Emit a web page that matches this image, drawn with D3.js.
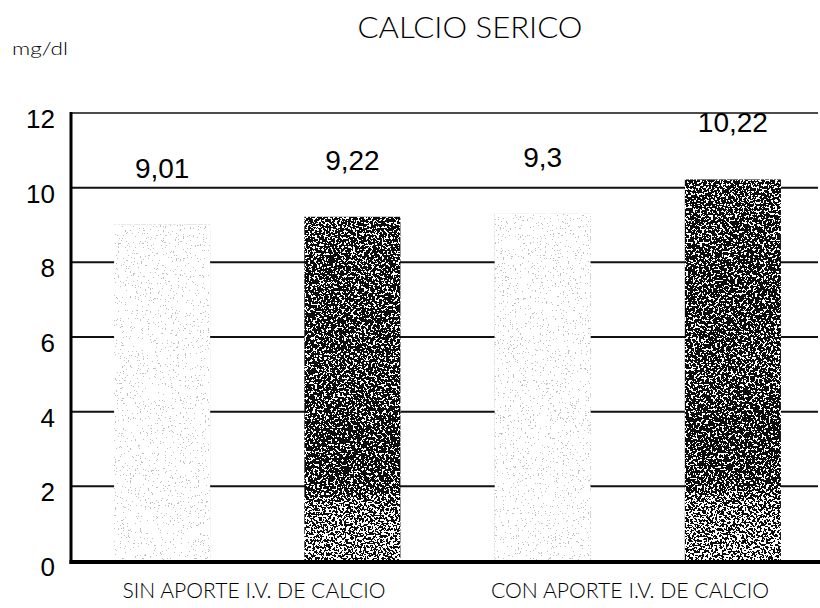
<!DOCTYPE html>
<html>
<head>
<meta charset="utf-8">
<script src="https://cdn.jsdelivr.net/npm/d3@7/dist/d3.min.js"></script>
<style>
  html, body { margin: 0; padding: 0; background: #fff; }
  svg { display: block; }
</style>
</head>
<body>
<svg id="chart" width="820" height="608"></svg>
<script>
// Serum calcium (mg/dl), with and without I.V. calcium supply
const title = "CALCIO SERICO";
const unitLabel = "mg/dl";
const groups = ["SIN APORTE I.V. DE CALCIO", "CON APORTE I.V. DE CALCIO"];
const seriesKeys = ["claro", "oscuro"];
const valuesClaro = [9.01, 9.3];
const valuesOscuro = [9.22, 10.22];
const yTicks = [0, 2, 4, 6, 8, 10, 12];

const bars = [];
groups.forEach((g, i) => {
  bars.push({ group: g, key: seriesKeys[0], value: valuesClaro[i] });
  bars.push({ group: g, key: seriesKeys[1], value: valuesOscuro[i] });
});
bars.forEach((d, i) => d.id = "b" + i);

const svg = d3.select("#chart");
const width = 820;

const y = d3.scaleLinear().domain([0, 12]).range([561, 113]);
const xBar = d3.scaleBand().domain(bars.map(d => d.id))
  .range([67, 828]).paddingInner(0.495).paddingOuter(0.2475);
const xGroup = d3.scaleBand().domain(groups).range([66, 818]);

const plotLeft = 71, plotRight = 818;

// ---- stipple textures (dithered grey) ----
const defs = svg.append("defs");

function ditherFilter(id, seed, darkTone, gain, freq) {
  const f = defs.append("filter").attr("id", id)
    .attr("x", 0).attr("y", 0).attr("width", 1).attr("height", 1)
    .attr("color-interpolation-filters", "sRGB");
  f.append("feTurbulence").attr("type", "fractalNoise")
    .attr("baseFrequency", freq).attr("numOctaves", 4).attr("seed", seed)
    .attr("result", "rawNoise");
  // single-channel grey noise, fully opaque
  f.append("feColorMatrix").attr("in", "rawNoise").attr("type", "matrix")
    .attr("values", "1 0 0 0 0  1 0 0 0 0  1 0 0 0 0  0 0 0 0 1")
    .attr("result", "noise");
  f.append("feComposite").attr("in", "SourceGraphic").attr("in2", "noise")
    .attr("operator", "arithmetic")
    .attr("k1", 0).attr("k2", 1).attr("k3", gain).attr("k4", -gain / 2)
    .attr("result", "mix");
  const ct = f.append("feComponentTransfer").attr("in", "mix").attr("result", "bw");
  ["feFuncR", "feFuncG", "feFuncB"].forEach(fn =>
    ct.append(fn).attr("type", "discrete").attr("tableValues", darkTone + " 1"));
  ct.append("feFuncA").attr("type", "linear").attr("slope", 0).attr("intercept", 1);
  f.append("feComposite").attr("in", "bw").attr("in2", "SourceGraphic").attr("operator", "in");
}
ditherFilter("grainDark", 7, 0.05, 2.5, 0.45);
ditherFilter("grainLight", 3, 0.76, 2.5, 0.6);

const gDark = defs.append("linearGradient").attr("id", "toneDark")
  .attr("x1", 0).attr("y1", 0).attr("x2", 0).attr("y2", 1);
[[0, 0.36], [0.3, 0.30], [0.5, 0.34], [0.65, 0.28], [0.8, 0.32], [0.83, 0.47], [1, 0.52]].forEach(([o, v]) => {
  const c = Math.round(v * 255);
  gDark.append("stop").attr("offset", o).attr("stop-color", d3.rgb(c, c, c));
});
const lightTone = d3.rgb(253, 253, 253);

// ---- gridlines ----
svg.append("g").selectAll("line")
  .data(yTicks.filter(t => t > 0))
  .join("line")
  .attr("x1", plotLeft).attr("x2", plotRight)
  .attr("y1", d => y(d)).attr("y2", d => y(d))
  .attr("stroke", "#111")
  .attr("stroke-width", d => d === 12 ? 1.4 : 2);

// ---- bars ----
svg.append("g").selectAll("rect")
  .data(bars)
  .join("rect")
  .attr("x", d => xBar(d.id))
  .attr("width", xBar.bandwidth())
  .attr("y", d => y(d.value))
  .attr("height", d => y(0) - y(d.value))
  .attr("fill", d => d.key === "oscuro" ? "url(#toneDark)" : lightTone)
  .attr("filter", d => d.key === "oscuro" ? "url(#grainDark)" : "url(#grainLight)");

// ---- axes ----
svg.append("line")
  .attr("x1", plotLeft).attr("x2", plotLeft)
  .attr("y1", y(12) - 1).attr("y2", y(0) + 3)
  .attr("stroke", "#000").attr("stroke-width", 3);
svg.append("line")
  .attr("x1", plotLeft - 1.5).attr("x2", width)
  .attr("y1", y(0) + 1).attr("y2", y(0) + 1)
  .attr("stroke", "#000").attr("stroke-width", 4);

svg.append("g").selectAll("text")
  .data(yTicks)
  .join("text")
  .attr("x", 55)
  .attr("y", d => y(d) + 15)
  .attr("text-anchor", "end")
  .attr("font-family", "'Liberation Sans', Arial, sans-serif")
  .attr("font-size", 26)
  .attr("fill", "#000")
  .text(d => d);

// ---- value labels ----
const fmt = v => String(v).replace(".", ",");
svg.append("g").selectAll("text")
  .data(bars)
  .join("text")
  .attr("x", d => xBar(d.id) + xBar.bandwidth() / 2)
  .attr("y", d => y(d.value) - 47)
  .attr("text-anchor", "middle")
  .attr("font-family", "'Liberation Sans', Arial, sans-serif")
  .attr("font-size", 28)
  .attr("fill", "#000")
  .text(d => fmt(d.value));

// ---- category labels ----
const catWidths = [263, 278];
svg.append("g").selectAll("text")
  .data(groups)
  .join("text")
  .attr("x", d => xGroup(d) + xGroup.bandwidth() / 2)
  .attr("y", 598)
  .attr("text-anchor", "middle")
  .attr("font-family", "Lato, 'Open Sans', sans-serif")
  .attr("font-weight", 300)
  .attr("font-size", 21)
  .attr("textLength", (d, i) => catWidths[i])
  .attr("lengthAdjust", "spacingAndGlyphs")
  .attr("fill", "#000")
  .text(d => d);

// ---- title and unit ----
svg.append("text")
  .attr("x", 470).attr("y", 38)
  .attr("text-anchor", "middle")
  .attr("font-family", "Lato, 'Open Sans', sans-serif")
  .attr("font-weight", 300)
  .attr("font-size", 30)
  .attr("textLength", 225)
  .attr("lengthAdjust", "spacingAndGlyphs")
  .attr("fill", "#000")
  .text(title);

svg.append("text")
  .attr("x", 12).attr("y", 55)
  .attr("font-family", "Lato, 'Open Sans', sans-serif")
  .attr("font-weight", 300)
  .attr("font-size", 17)
  .attr("textLength", 56)
  .attr("lengthAdjust", "spacingAndGlyphs")
  .attr("fill", "#000")
  .text(unitLabel);
</script>
</body>
</html>
